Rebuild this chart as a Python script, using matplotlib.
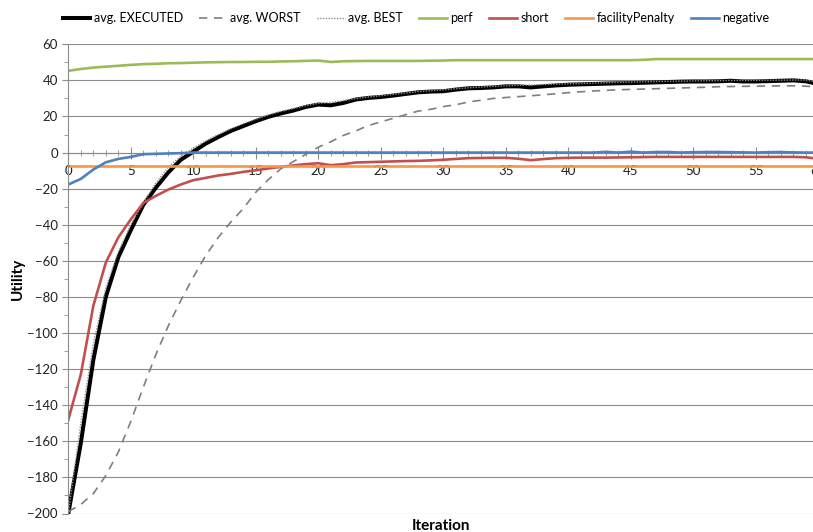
import numpy as np
import matplotlib.pyplot as plt
from matplotlib.ticker import MultipleLocator

iteration = list(range(61))

executed = [-200, -161, -115, -80, -58, -43, -29, -19.5, -11, -4, 0.5, 5, 8.6, 12, 14.7, 17.4, 19.8, 21.7,
            23.3, 25.3, 26.6, 26.2, 27.5, 29.4, 30.3, 30.8, 31.6, 32.5, 33.4, 33.8, 34, 34.9, 35.6, 35.8,
            36.1, 36.7, 36.7, 36.1, 36.7, 37.2, 37.6, 37.8, 38, 38.2, 38.4, 38.5, 38.7, 38.9, 39.1, 39.3,
            39.4, 39.4, 39.5, 39.8, 39.4, 39.4, 39.6, 39.8, 40, 39.5, 38]
worst = [-199, -195, -189, -179, -166, -149, -130, -112, -96, -82, -69, -57, -47, -38.5, -31, -22, -15, -9,
         -5, -1, 3, 6, 9.5, 12, 15, 17, 19, 21, 23, 24, 25.5, 26.5, 28, 29, 30, 30.5, 31, 31.5, 32, 32.6,
         33.2, 33.7, 34.1, 34.5, 34.8, 35, 35.2, 35.4, 35.6, 35.8, 36, 36.2, 36.5, 36.6, 36.7, 36.8, 36.9,
         37, 37, 36.8, 36.3]
best = [-200, -150, -106, -75, -55, -40, -28, -17, -8, -2, 2.5, 6.5, 10, 13.2, 16, 18.5, 20.8, 22.8, 24.4,
        26, 27.3, 27.8, 28.8, 29.9, 30.8, 31.5, 32.3, 33, 33.8, 34.3, 34.8, 35.4, 35.9, 36.3, 36.7, 37,
        37.3, 37.5, 37.7, 37.9, 38.1, 38.3, 38.5, 38.7, 38.9, 39.1, 39.2, 39.4, 39.5, 39.6, 39.7, 39.8,
        39.9, 40, 40, 40, 40.1, 40.1, 40.2, 40.2, 39]
perf = [45.3, 46.3, 47.1, 47.6, 48.1, 48.6, 49, 49.2, 49.5, 49.6, 49.8, 50, 50.1, 50.2, 50.2, 50.3, 50.3,
        50.5, 50.6, 50.8, 51, 50.2, 50.6, 50.7, 50.8, 50.8, 50.8, 50.8, 50.8, 50.9, 51, 51.2, 51.2, 51.2,
        51.2, 51.2, 51.2, 51.2, 51.2, 51.2, 51.2, 51.2, 51.2, 51.2, 51.2, 51.2, 51.4, 51.8, 51.8, 51.8,
        51.8, 51.8, 51.8, 51.8, 51.8, 51.8, 51.8, 51.8, 51.8, 51.8, 51.8]
short = [-148, -123, -85, -61, -47, -37, -28, -24, -20.5, -17.7, -15.3, -14, -12.7, -11.8, -10.7, -9.8,
         -8.8, -7.9, -7.1, -6.4, -5.9, -7, -6.4, -5.5, -5.3, -5.1, -4.9, -4.7, -4.6, -4.3, -4, -3.5, -3.1,
         -3, -2.9, -2.9, -3.4, -4.2, -3.6, -3.1, -2.9, -2.8, -2.8, -2.8, -2.7, -2.6, -2.5, -2.4, -2.4, -2.4,
         -2.4, -2.4, -2.4, -2.4, -2.4, -2.4, -2.4, -2.4, -2.4, -2.6, -3.5]
facility_penalty = [-7.5] * 61
negative = [-17.7, -14.6, -9.4, -5.4, -3.5, -2.4, -0.9, -0.7, -0.5, -0.3, 0, 0, 0, 0, 0, 0, 0, 0, 0, 0,
            0, 0, 0, 0, 0, 0, 0, 0, 0, 0, 0, 0, 0, 0, 0, 0, 0, 0, 0, 0, 0, 0, 0, 0.4, 0, 0.5, 0, 0.3, 0.3,
            0, 0.2, 0.3, 0.3, 0.2, 0.1, 0, 0.2, 0.3, 0.1, 0, 0]

plt.rcParams['font.family'] = ['Lato', 'DejaVu Sans']

fig = plt.figure(figsize=(8.13, 5.32), dpi=100)
W, H = 813, 532
ax = fig.add_axes([68.3 / W, (H - 513.5) / H, 750 / W, (513.5 - 44.3) / H])

ax.plot(iteration, executed, color='black', lw=2.9, label='avg. EXECUTED', solid_joinstyle='round')
ax.plot(iteration, worst, color='#7f7f7f', lw=1.2, ls=(0, (5, 4)), label='avg. WORST')
ax.plot(iteration, best, color='#909090', lw=1.0, ls=(0, (1, 1)), label='avg. BEST')
ax.plot(iteration, perf, color='#9bbb59', lw=1.9, label='perf')
ax.plot(iteration, short, color='#c0504d', lw=1.9, label='short')
ax.plot(iteration, facility_penalty, color='#f79646', lw=1.9, label='facilityPenalty')
ax.plot(iteration, negative, color='#4f81bd', lw=1.9, label='negative')

ax.set_xlim(0, 60)
ax.set_ylim(-200, 60)
ax.yaxis.set_major_locator(MultipleLocator(20))
ax.yaxis.set_minor_locator(MultipleLocator(10))
ax.xaxis.set_major_locator(MultipleLocator(5))
ax.xaxis.set_minor_locator(MultipleLocator(1))
ax.grid(axis='y', color='#8c8c8c', lw=0.8)
ax.set_axisbelow(True)

for s in ['top', 'right']:
    ax.spines[s].set_visible(False)
ax.spines['left'].set_color('#8c8c8c')
ax.spines['bottom'].set_position(('data', 0))
ax.spines['bottom'].set_color('#8c8c8c')
ax.spines['bottom'].set_zorder(0.5)

ax.tick_params(axis='y', which='major', length=4, color='#8c8c8c', labelsize=9.5, labelcolor='#222222')
ax.tick_params(axis='y', which='minor', length=3, color='#8c8c8c')
ax.tick_params(axis='x', which='major', direction='inout', length=8, color='#8c8c8c', labelsize=9.5,
               labelcolor='#222222', pad=5)
ax.tick_params(axis='x', which='minor', direction='inout', length=5, color='#8c8c8c')

ax.set_ylabel('Utility', fontsize=11, fontweight='bold')
ax.yaxis.set_label_coords(-(68.3 - 25) / 750, 0.5)
fig.text(441 / W, 1 - 526 / H, 'Iteration', ha='center', va='center', fontsize=11, fontweight='bold')

fig.legend(loc='center', bbox_to_anchor=(416 / W, 1 - 18 / H), ncol=7, frameon=False, fontsize=9,
           handlelength=2.2, columnspacing=1.3, handletextpad=0.3)

fig.savefig('out.png', dpi=100)
